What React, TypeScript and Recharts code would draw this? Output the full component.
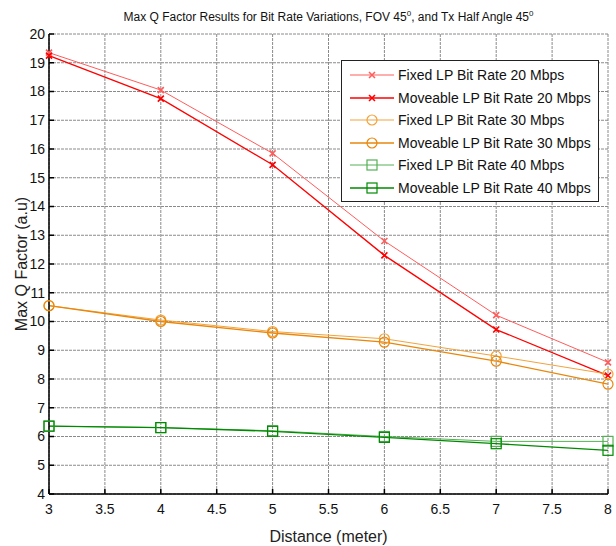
import React from "react";
import {
    LineChart,
    Line,
    XAxis,
    YAxis,
    CartesianGrid,
} from "recharts";

const distance = [3, 4, 5, 6, 7, 8];
const fixed20 = [19.35, 18.05, 15.85, 12.8, 10.22, 8.58];
const moveable20 = [19.25, 17.75, 15.45, 12.3, 9.72, 8.12];
const fixed30 = [10.55, 10.05, 9.65, 9.4, 8.8, 8.17];
const moveable30 = [10.55, 10.0, 9.6, 9.28, 8.62, 7.82];
const fixed40 = [6.36, 6.31, 6.2, 6.0, 5.83, 5.83];
const moveable40 = [6.36, 6.31, 6.18, 5.97, 5.75, 5.52];

const xTicks = [3, 3.5, 4, 4.5, 5, 5.5, 6, 6.5, 7, 7.5, 8];
const yTicks = [4, 5, 6, 7, 8, 9, 10, 11, 12, 13, 14, 15, 16, 17, 18, 19, 20];

const series = [
    { key: "f20", name: "Fixed LP Bit Rate 20 Mbps", values: fixed20, color: "#ff5c5c", width: 1, marker: "x" },
    { key: "m20", name: "Moveable LP Bit Rate 20 Mbps", values: moveable20, color: "#ff0000", width: 1.3, marker: "x" },
    { key: "f30", name: "Fixed LP Bit Rate 30 Mbps", values: fixed30, color: "#f2a33c", width: 1, marker: "o" },
    { key: "m30", name: "Moveable LP Bit Rate 30 Mbps", values: moveable30, color: "#e8870c", width: 1.3, marker: "o" },
    { key: "f40", name: "Fixed LP Bit Rate 40 Mbps", values: fixed40, color: "#55b055", width: 1, marker: "s" },
    { key: "m40", name: "Moveable LP Bit Rate 40 Mbps", values: moveable40, color: "#008a00", width: 1.3, marker: "s" },
];

const data = distance.map((d, i) => {
    const row: any = { d };
    series.forEach((s) => (row[s.key] = s.values[i]));
    return row;
});

const font = "'Liberation Sans', Arial, sans-serif";

function Marker({ cx, cy, type, color }: any) {
    if (cx == null || cy == null) return null;
    if (type === "x") {
        return (
            <path
                d={`M${cx - 3},${cy - 3}L${cx + 3},${cy + 3}M${cx + 3},${cy - 3}L${cx - 3},${cy + 3}`}
                stroke={color}
                strokeWidth={1.6}
                fill="none"
            />
        );
    }
    if (type === "o") {
        return <circle cx={cx} cy={cy} r={5} stroke={color} strokeWidth={1.2} fill="none" />;
    }
    return <rect x={cx - 5} y={cy - 5} width={10} height={10} stroke={color} strokeWidth={1.2} fill="none" />;
}

// legend drawn as an overlay so it doesn't shrink the plot
const LegendBox = () => (
    <div
        style={{
            position: "absolute",
            left: 341,
            top: 60,
            border: "1.5px solid #222",
            background: "#fff",
            width: 256,
            padding: "3px 0 2px",
            fontFamily: font,
            fontSize: 14,
            color: "#111",
        }}
    >
        {series.map((s) => (
            <div key={s.key} style={{ display: "flex", alignItems: "center", height: 22.5 }}>
                <svg width={56} height={14} style={{ flex: "none" }}>
                    <line x1={8} x2={52} y1={7} y2={7} stroke={s.color} strokeWidth={s.width} />
                    <Marker cx={30} cy={7} type={s.marker} color={s.color} />
                </svg>
                <span>{s.name}</span>
            </div>
        ))}
    </div>
);

export default function App() {
    return (
        <div style={{ position: "absolute", left: 0, top: 0, width: 616, height: 546, background: "#fff" }}>
            <div
                style={{
                    position: "absolute",
                    left: 49,
                    width: 559,
                    top: 9,
                    textAlign: "center",
                    fontFamily: font,
                    fontSize: 12,
                    color: "#111",
                    whiteSpace: "nowrap",
                }}
            >
                Max Q Factor Results for Bit Rate Variations, FOV 45<sup style={{ fontSize: 8 }}>0</sup>, and Tx Half Angle 45
                <sup style={{ fontSize: 8 }}>0</sup>
            </div>
            <LineChart
                width={616}
                height={546}
                data={data}
                margin={{ top: 34, right: 8, bottom: 0, left: 0 }}
                style={{ fontFamily: font }}
            >
                <CartesianGrid stroke="#8a8a8a" strokeDasharray="3 1" />
                <XAxis
                    dataKey="d"
                    type="number"
                    domain={[3, 8]}
                    ticks={xTicks}
                    interval={0}
                    height={52}
                    tickSize={-5}
                    tickMargin={15}
                    stroke="#000"
                    strokeWidth={1.5}
                    tick={{ fill: "#111", fontSize: 14 }}
                    label={{ value: "Distance (meter)", position: "insideBottom", offset: 4, fill: "#222", fontSize: 16 }}
                />
                <XAxis
                    xAxisId="top"
                    orientation="top"
                    dataKey="d"
                    type="number"
                    domain={[3, 8]}
                    ticks={xTicks}
                    interval={0}
                    height={0}
                    tickSize={-5}
                    tick={false}
                    stroke="#000"
                    strokeWidth={1.5}
                />
                <YAxis
                    type="number"
                    domain={[4, 20]}
                    ticks={yTicks}
                    interval={0}
                    width={49}
                    tickSize={-5}
                    tickMargin={9}
                    stroke="#000"
                    strokeWidth={1.5}
                    tick={{ fill: "#111", fontSize: 14 }}
                    label={{
                        value: "Max Q Factor (a.u)",
                        angle: -90,
                        position: "insideLeft",
                        offset: 21,
                        style: { textAnchor: "middle" },
                        fill: "#222",
                        fontSize: 16,
                    }}
                />
                <YAxis
                    yAxisId="right"
                    orientation="right"
                    type="number"
                    domain={[4, 20]}
                    ticks={yTicks}
                    interval={0}
                    width={0}
                    tickSize={-5}
                    tick={false}
                    stroke="#000"
                    strokeWidth={1.5}
                />
                {series.map((s) => (
                    <Line
                        key={s.key}
                        dataKey={s.key}
                        name={s.name}
                        stroke={s.color}
                        strokeWidth={s.width}
                        isAnimationActive={false}
                        dot={(p: any) => <Marker key={`${s.key}-${p.index}`} cx={p.cx} cy={p.cy} type={s.marker} color={s.color} />}
                        activeDot={false}
                    />
                ))}
            </LineChart>
            <LegendBox />
        </div>
    );
}
